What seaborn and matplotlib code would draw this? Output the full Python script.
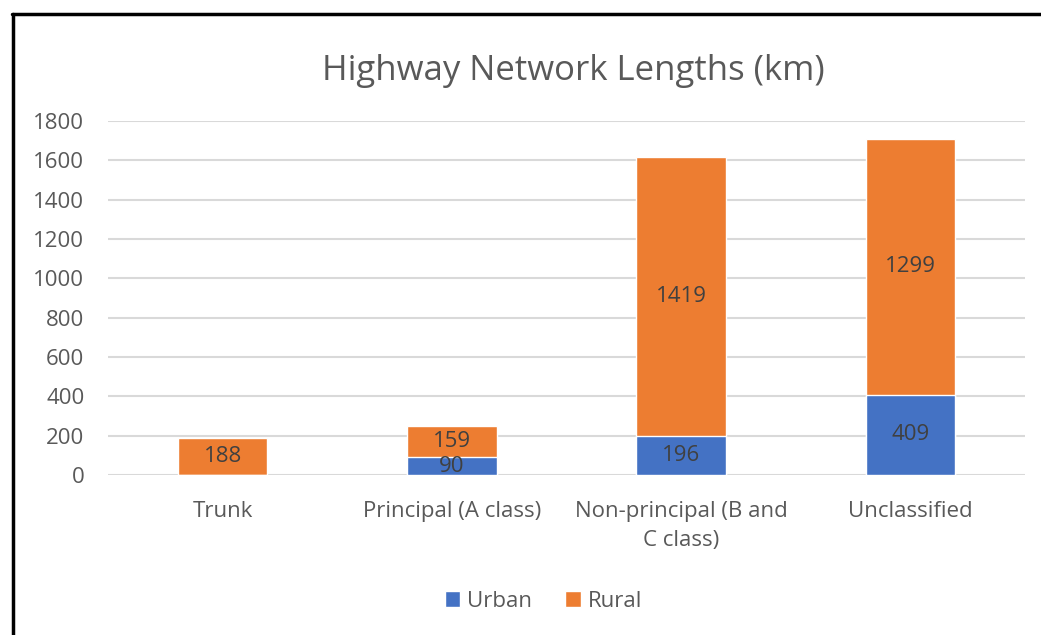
import matplotlib
matplotlib.use("Agg")
import matplotlib.pyplot as plt
from matplotlib.lines import Line2D
from matplotlib.patches import Patch
import seaborn as sns
import pandas as pd

categories = ["Trunk", "Principal (A class)", "Non-principal (B and\nC class)", "Unclassified"]
urban = [0, 90, 196, 409]
rural = [188, 159, 1419, 1299]
yticks = [0, 200, 400, 600, 800, 1000, 1200, 1400, 1600, 1800]

BLUE = "#4472C4"
ORANGE = "#ED7D31"
TXT = "#595959"
FS = 16

sns.set_theme(style="white")
plt.rcParams["font.family"] = ["Open Sans", "DejaVu Sans"]

df = pd.DataFrame({"cat": categories, "urban": urban, "rural": rural})
df["total"] = df["urban"] + df["rural"]

fig = plt.figure(figsize=(10.41, 6.35), dpi=100)
ax = fig.add_axes([0.1037, 0.252, 0.881, 0.5575])

sns.barplot(data=df, x="cat", y="total", color=ORANGE, saturation=1, width=0.39, ax=ax, zorder=3)
sns.barplot(data=df, x="cat", y="urban", color=BLUE, saturation=1, width=0.39, ax=ax, zorder=3)

for i, (u, r) in enumerate(zip(urban, rural)):
    ax.text(i, u + r / 2, str(r), ha="center", va="center", fontsize=FS, color="#404040", zorder=5)
    if u > 0:
        ax.text(i, u / 2, str(u), ha="center", va="center", fontsize=FS, color="#404040", zorder=5)

ax.set_ylim(0, 1800)
ax.set_yticks(yticks)
ax.set_xlim(-0.5, 3.5)
ax.yaxis.grid(True, color="#D9D9D9", linewidth=1.5, zorder=0)
ax.set_axisbelow(True)
for s in ax.spines.values():
    s.set_visible(False)
ax.tick_params(axis="both", length=0, labelsize=FS, labelcolor=TXT)
ax.tick_params(axis="y", pad=17)
ax.tick_params(axis="x", pad=19)
for lab in ax.get_xticklabels():
    lab.set_linespacing(1.45)
ax.set_xlabel("")
ax.set_ylabel("")

fig.text(0.551, 0.888, "Highway Network Lengths (km)", ha="center", va="center",
         fontsize=25, color=TXT)

handles = [Patch(facecolor=BLUE, label="Urban"), Patch(facecolor=ORANGE, label="Rural")]
fig.legend(handles=handles, loc="center", bbox_to_anchor=(0.522, 0.053), ncol=2,
           frameon=False, fontsize=FS, labelcolor=TXT, handlelength=0.7,
           handleheight=0.7, handletextpad=0.3, columnspacing=1.5)

# outer frame (left and top edges)
fig.add_artist(Line2D([13 / 1041, 13 / 1041], [0, 1 - 14 / 635], color="black", lw=2.5,
                      transform=fig.transFigure))
fig.add_artist(Line2D([12 / 1041, 1], [1 - 14 / 635, 1 - 14 / 635], color="black", lw=2.5,
                      transform=fig.transFigure))

fig.savefig("out.png", dpi=100, facecolor="white")
